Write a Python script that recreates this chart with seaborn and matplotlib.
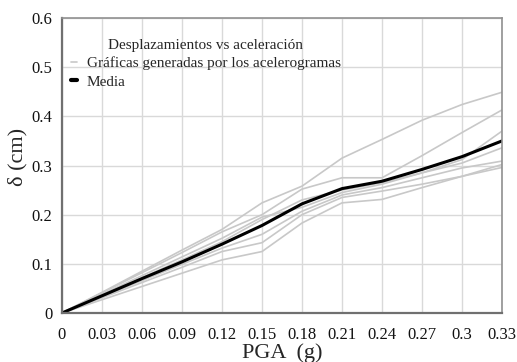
import matplotlib
matplotlib.use("Agg")
import matplotlib.pyplot as plt
import numpy as np
import pandas as pd
import seaborn as sns
from matplotlib.ticker import FuncFormatter

# PGA (g)
pga = [0, 0.03, 0.06, 0.09, 0.12, 0.15, 0.18, 0.21, 0.24, 0.27, 0.30, 0.33]

# desplazamientos de cada acelerograma (cm)
acel_1 = [0, 0.042, 0.085, 0.128, 0.170, 0.224, 0.258, 0.315, 0.353, 0.392, 0.424, 0.449]
acel_2 = [0, 0.041, 0.082, 0.123, 0.165, 0.200, 0.252, 0.275, 0.275, 0.320, 0.367, 0.413]
acel_3 = [0, 0.038, 0.076, 0.114, 0.152, 0.195, 0.215, 0.245, 0.262, 0.285, 0.312, 0.370]
acel_4 = [0, 0.036, 0.072, 0.108, 0.145, 0.190, 0.230, 0.250, 0.265, 0.285, 0.305, 0.336]
acel_5 = [0, 0.033, 0.066, 0.099, 0.132, 0.160, 0.207, 0.240, 0.255, 0.275, 0.295, 0.309]
acel_6 = [0, 0.031, 0.062, 0.093, 0.125, 0.143, 0.200, 0.235, 0.248, 0.262, 0.278, 0.302]
acel_7 = [0, 0.027, 0.054, 0.081, 0.108, 0.125, 0.183, 0.224, 0.231, 0.255, 0.278, 0.296]

media = [0, 0.035, 0.070, 0.104, 0.140, 0.178, 0.222, 0.253, 0.268, 0.292, 0.318, 0.350]

series = [acel_1, acel_2, acel_3, acel_4, acel_5, acel_6, acel_7]

sns.set_style("white")
plt.rcParams['font.family'] = ['Liberation Serif', 'DejaVu Serif']

fig = plt.figure(figsize=(5.17, 3.62), dpi=100)
ax = fig.add_axes([62 / 517, 1 - 313 / 362, 440 / 517, 295 / 362])

for i, s in enumerate(series):
    sns.lineplot(x=pga, y=s, color="#c8c8c8", linewidth=1.2, ax=ax,
                 label="Gráficas generadas por los acelerogramas" if i == 0 else None)
sns.lineplot(x=pga, y=media, color="black", linewidth=2.2, ax=ax, label="Media")

ax.set_xlim(0, 0.33)
ax.set_ylim(0, 0.6)
ax.set_xticks(np.arange(0, 0.331, 0.03))
ax.set_yticks(np.arange(0, 0.61, 0.1))
ax.xaxis.set_major_formatter(FuncFormatter(lambda v, p: "%g" % round(v, 2)))
ax.yaxis.set_major_formatter(FuncFormatter(lambda v, p: "%g" % round(v, 1)))
ax.tick_params(length=0, labelsize=12, colors="#111111")
ax.tick_params(axis="x", pad=10)
ax.tick_params(axis="y", pad=7)
ax.grid(True, color="#d9d9d9", linewidth=1)
for side in ["left", "bottom"]:
    ax.spines[side].set_color("#707070")
    ax.spines[side].set_linewidth(1.6)
for side in ["top", "right"]:
    ax.spines[side].set_color("#909090")
    ax.spines[side].set_linewidth(1.2)

ax.set_xlabel("PGA  (g)", fontsize=16, labelpad=0)
ax.set_ylabel("δ (cm)", fontsize=16)
ax.yaxis.set_label_coords(-0.078, 0.53)

leg = ax.legend(title="Desplazamientos vs aceleración", loc="upper left",
                frameon=False, handlelength=0.4, handletextpad=0.6,
                fontsize=11, title_fontsize=11, labelspacing=0.3,
                bbox_to_anchor=(-0.01, 0.975))
leg._legend_box.align = "center"
leg.get_lines()[1].set_linewidth(3)

fig.savefig("out.png", dpi=100)
